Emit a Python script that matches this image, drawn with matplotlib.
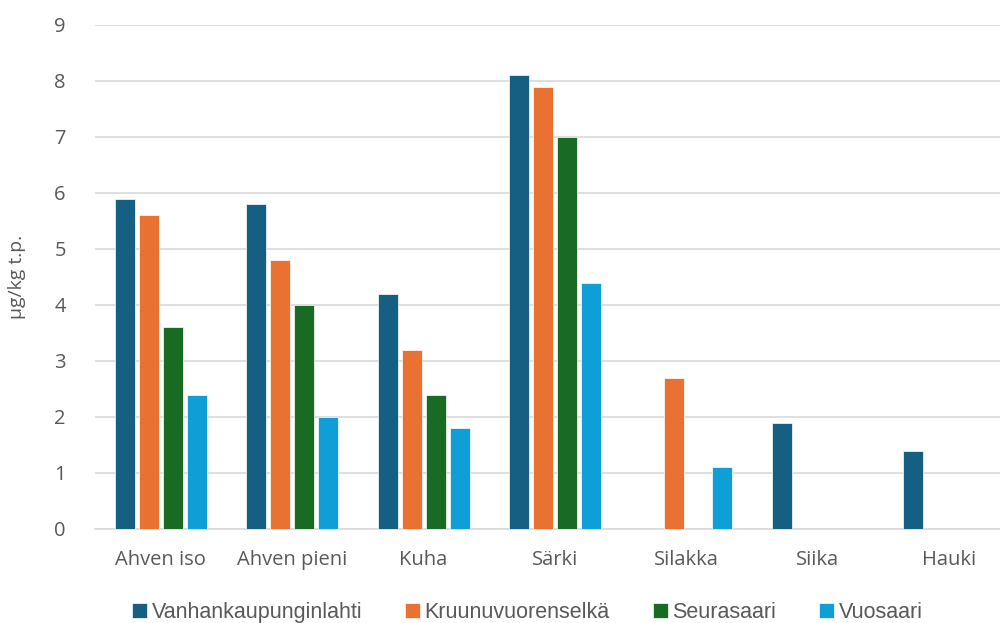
import numpy as np
import matplotlib.pyplot as plt
from matplotlib import font_manager

lajit = ['Ahven iso', 'Ahven pieni', 'Kuha', 'Särki', 'Silakka', 'Siika', 'Hauki']
alueet = ['Vanhankaupunginlahti', 'Kruunuvuorenselkä', 'Seurasaari', 'Vuosaari']
nan = np.nan
vanhankaupunginlahti = [5.9, 5.8, 4.2, 8.1, nan, 1.9, 1.4]
kruunuvuorenselka = [5.6, 4.8, 3.2, 7.9, 2.7, nan, nan]
seurasaari = [3.6, 4.0, 2.4, 7.0, nan, nan, nan]
vuosaari = [2.4, 2.0, 1.8, 4.4, 1.1, nan, nan]
varit = ['#156082', '#E97132', '#196B24', '#0F9ED5']

nimet = {f.name for f in font_manager.fontManager.ttflist}
fontti = 'Open Sans'
kapea = 'Liberation Sans Narrow' if 'Liberation Sans Narrow' in nimet else 'Liberation Sans'
plt.rcParams['font.family'] = [fontti, 'DejaVu Sans']

fig = plt.figure(figsize=(10, 6.23), dpi=100)
ax = fig.add_axes([0.095, 0.151, 0.92, 0.809])

x = np.arange(len(lajit))
askel = 0.1825
leveys = 0.152
sarjat = [vanhankaupunginlahti, kruunuvuorenselka, seurasaari, vuosaari]
for i, (nimi, arvot) in enumerate(zip(alueet, sarjat)):
    ax.bar(x + (i - 1.5) * askel, arvot, leveys, color=varit[i], label=nimi,
           edgecolor='white', linewidth=0.5, zorder=3)

ax.set_xlim(-0.5, 6.5)
ax.set_ylim(0, 9)
ax.set_yticks(range(10))
ax.set_xticks(x)
ax.set_xticklabels(lajit)
ax.grid(axis='y', color='#D9D9D9', linewidth=1.2, zorder=0)
for s in ['top', 'right', 'left']:
    ax.spines[s].set_visible(False)
ax.spines['bottom'].set_color('#D9D9D9')
ax.spines['bottom'].set_linewidth(1.2)
ax.tick_params(length=0, labelsize=14.5, labelcolor='#595959')
ax.tick_params(axis='x', pad=15)
ax.tick_params(axis='y', pad=21)
ax.set_ylabel('µg/kg t.p.', fontsize=14, color='#595959', labelpad=20)

ax.legend(loc='lower center', bbox_to_anchor=(0.47, -0.225), ncol=4, frameon=False,
          prop={'family': kapea, 'size': 15.5}, labelcolor='#595959',
          handlelength=0.7, handleheight=0.7, handletextpad=0.2, columnspacing=2.0)

fig.savefig('out.png', dpi=100)
